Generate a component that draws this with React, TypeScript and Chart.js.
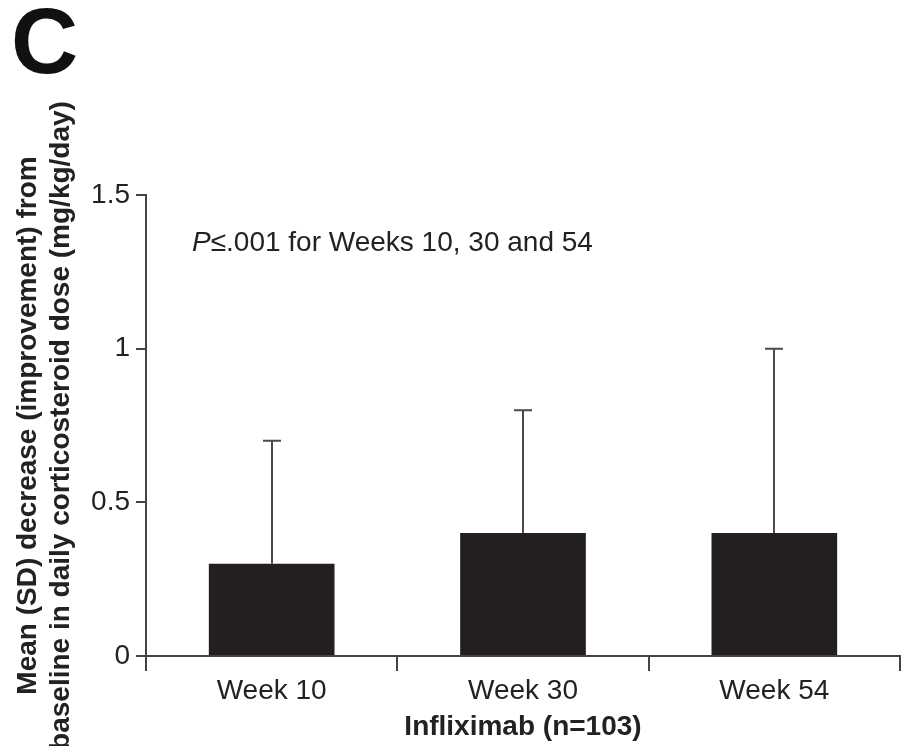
import React, { useEffect, useRef } from "react";
import { Chart, registerables } from "chart.js";

Chart.register(...registerables);

const categories = ["Week 10", "Week 30", "Week 54"];
const meanValues = [0.3, 0.4, 0.4];
const sdValues = [0.4, 0.4, 0.6];
const yTicks = [0, 0.5, 1, 1.5];
const yTitleLines = [
  "Mean (SD) decrease (improvement) from",
  "baseline in daily corticosteroid dose (mg/kg/day)",
];
const xTitle = "Infliximab (n=103)";
const panelLetter = "C";
const pLabel = "P";
const pText = "\u2264.001 for Weeks 10, 30 and 54";

const FONT = "'Liberation Sans', Arial, Helvetica, sans-serif";
const TEXT = "#222222";
const AXIS = "#444444";

const extrasPlugin = {
  id: "extras",
  afterDatasetsDraw(chart: any) {
    const ctx = chart.ctx;
    const yScale = chart.scales.y;
    const meta = chart.getDatasetMeta(0);
    ctx.save();
    ctx.strokeStyle = "#4a4a4a";
    ctx.lineWidth = 2;
    meta.data.forEach((bar: any, i: number) => {
      const top = yScale.getPixelForValue(meanValues[i]);
      const end = yScale.getPixelForValue(meanValues[i] + sdValues[i]);
      const x = Math.round(bar.x);
      ctx.beginPath();
      ctx.moveTo(x, top);
      ctx.lineTo(x, end);
      ctx.moveTo(x - 9, end);
      ctx.lineTo(x + 9, end);
      ctx.stroke();
    });
    ctx.restore();
  },
  afterDraw(chart: any) {
    const ctx = chart.ctx;
    ctx.save();
    ctx.fillStyle = "#111111";
    ctx.textBaseline = "alphabetic";
    ctx.textAlign = "left";
    ctx.font = `bold 93px ${FONT}`;
    ctx.fillText(panelLetter, 11, 73);

    ctx.fillStyle = TEXT;
    ctx.font = `italic 28px ${FONT}`;
    const x0 = chart.chartArea.left + 46;
    const yb = 251;
    ctx.fillText(pLabel, x0, yb);
    const w = ctx.measureText(pLabel).width;
    ctx.font = `28px ${FONT}`;
    ctx.fillText(pText, x0 + w, yb);
    ctx.restore();
  },
};

export default function App() {
  const ref = useRef<HTMLCanvasElement | null>(null);
  useEffect(() => {
    if (!ref.current) return;
    const chart = new Chart(ref.current, {
      type: "bar",
      data: {
        labels: categories,
        datasets: [
          {
            data: meanValues,
            backgroundColor: "#231f20",
            borderColor: "#231f20",
            borderWidth: 0,
            barPercentage: 0.5,
            categoryPercentage: 1,
          },
        ],
      },
      options: {
        animation: false,
        responsive: false,
        maintainAspectRatio: false,
        layout: { padding: { top: 195, right: 6, left: 0, bottom: 0 } },
        plugins: {
          legend: { display: false },
          tooltip: { enabled: false },
        },
        scales: {
          x: {
            offset: true,
            grid: {
              offset: true,
              drawOnChartArea: false,
              drawTicks: true,
              tickLength: 15,
              color: AXIS,
              lineWidth: 2,
            },
            border: { display: true, color: AXIS, width: 2 },
            ticks: {
              color: TEXT,
              font: { family: FONT, size: 28 },
              padding: 3,
              maxRotation: 0,
            },
            title: {
              display: true,
              text: xTitle,
              color: TEXT,
              font: { family: FONT, size: 28, weight: "bold" },
              padding: { top: 0, bottom: 2 },
            },
            afterFit: (s: any) => {
              s.height = 90;
            },
          },
          y: {
            min: 0,
            max: 1.5,
            afterBuildTicks: (s: any) => {
              s.ticks = yTicks.map((v) => ({ value: v }));
            },
            grid: {
              drawOnChartArea: false,
              drawTicks: true,
              tickLength: 10,
              color: AXIS,
              lineWidth: 2,
            },
            border: { display: true, color: AXIS, width: 2 },
            ticks: {
              color: TEXT,
              font: { family: FONT, size: 28 },
              padding: 6,
              callback: (v: any) => String(v),
            },
            title: {
              display: true,
              text: yTitleLines,
              color: TEXT,
              font: { family: FONT, size: 28, weight: "bold", lineHeight: 1.18 },
              padding: { top: 12, bottom: 0 },
            },
            afterFit: (s: any) => {
              s.width = 146;
            },
          },
        },
      },
      plugins: [extrasPlugin],
    });
    return () => chart.destroy();
  }, []);
  return (
    <div style={{ position: "fixed", left: 0, top: 0, width: 906, height: 746, background: "#fff" }}>
      <canvas ref={ref} width={906} height={746} style={{ display: "block" }} />
    </div>
  );
}
